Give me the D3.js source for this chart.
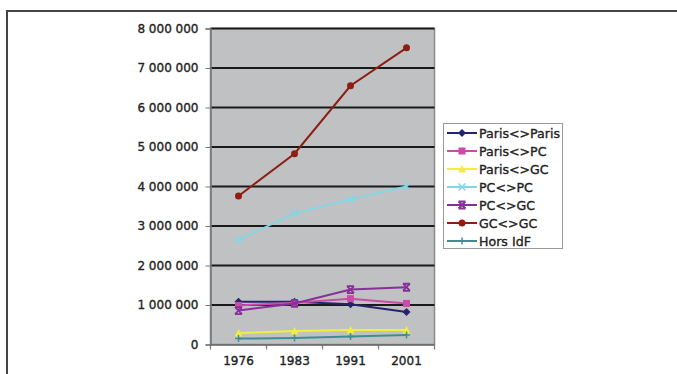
<!DOCTYPE html>
<html><head><meta charset="utf-8">
<script src="https://cdn.jsdelivr.net/npm/d3@7"></script>
<style>body{margin:0;background:#fff;}svg{display:block;}text{font-family:"DejaVu Sans",Verdana,sans-serif;stroke:#222;stroke-width:0.35px;}</style>
</head><body><svg id="c" width="677" height="374"></svg>
<script>
const years = ["1976","1983","1991","2001"];
const seriesNames = ["Paris<>Paris","Paris<>PC","Paris<>GC","PC<>PC","PC<>GC","GC<>GC","Hors IdF"];
const parisParis = [1080000,1080000,1020000,820000];
const parisPC    = [990000,1060000,1160000,1040000];
const parisGC    = [290000,340000,370000,370000];
const pcPC       = [2650000,3320000,3680000,4000000];
const pcGC       = [860000,1040000,1390000,1450000];
const gcGC       = [3760000,4830000,6550000,7510000];
const horsIdF    = [150000,165000,200000,240000];
const yTicks = [0,1000000,2000000,3000000,4000000,5000000,6000000,7000000,8000000];
const colors = ["#24246e","#cc4aa8","#f2ee3c","#84d6e4","#86319a","#8c1e12","#3d8e94"];
const markers = ["diamond","square","triangle","x","star","circle","plus"];
const values = [parisParis,parisPC,parisGC,pcPC,pcGC,gcGC,horsIdF];

const svg = d3.select("#c");
// outer frame
svg.append("path").attr("d","M7,374 V11 H677").attr("fill","none").attr("stroke","#444").attr("stroke-width",2);

const L=210.5, R=434.5, T=28.5, B=344.5;
const x = d3.scaleBand().domain(years).range([L,R]);
const y = d3.scaleLinear().domain([0,8000000]).range([B,T]);

svg.append("rect").attr("x",L).attr("y",T).attr("width",R-L).attr("height",B-T).attr("fill","#bfc1c3").attr("stroke","#8a8a8a").attr("stroke-width",1.5);

// gridlines
svg.append("g").selectAll("line").data(yTicks.filter(d=>d>0)).join("line")
  .attr("x1",L).attr("x2",R).attr("y1",d=>y(d)).attr("y2",d=>y(d))
  .attr("stroke","#1a1a1a").attr("stroke-width",2.2);

const fmt = d => d3.format(",")(d).replace(/,/g," ");
const yAxis = svg.append("g").attr("transform",`translate(${L},0)`)
  .call(d3.axisLeft(y).tickValues(yTicks).tickFormat(fmt).tickSize(5).tickPadding(7));
yAxis.select(".domain").attr("stroke","#777").attr("stroke-width",1.5);
yAxis.selectAll(".tick line").attr("stroke","#777");
yAxis.selectAll("text").attr("font-size","12px").attr("fill","#222");

const xAxis = svg.append("g").attr("transform",`translate(0,${B})`)
  .call(d3.axisBottom(x).tickSize(0).tickPadding(12));
xAxis.select(".domain").attr("stroke","#666").attr("stroke-width",1.5);
xAxis.selectAll("text").attr("font-size","12px").attr("fill","#222");
// boundary ticks
svg.append("g").selectAll("line").data(years.slice(1)).join("line")
  .attr("x1",d=>x(d)).attr("x2",d=>x(d)).attr("y1",B).attr("y2",B+5).attr("stroke","#777").attr("stroke-width",1.2);
svg.append("g").selectAll("line").data([L,R]).join("line")
  .attr("x1",d=>d).attr("x2",d=>d).attr("y1",B).attr("y2",B+5).attr("stroke","#777").attr("stroke-width",1.2);

const cx = d => x(d)+x.bandwidth()/2;
function drawMarker(g, type, px, py, col){
  const s=3.5;
  if(type==="diamond") g.append("path").attr("d",`M${px},${py-s-0.5}L${px+s+0.5},${py}L${px},${py+s+0.5}L${px-s-0.5},${py}Z`).attr("fill",col);
  else if(type==="square") g.append("rect").attr("x",px-s).attr("y",py-s).attr("width",2*s).attr("height",2*s).attr("fill",col);
  else if(type==="triangle") g.append("path").attr("d",`M${px},${py-s-0.5}L${px+s+0.5},${py+s}L${px-s-0.5},${py+s}Z`).attr("fill",col);
  else if(type==="x") g.append("path").attr("d",`M${px-s},${py-s}L${px+s},${py+s}M${px-s},${py+s}L${px+s},${py-s}`).attr("stroke",col).attr("stroke-width",1.6);
  else if(type==="star") g.append("path").attr("d",`M${px-s},${py-s}L${px+s},${py+s}M${px-s},${py+s}L${px+s},${py-s}M${px-s},${py-s}H${px+s}M${px-s},${py+s}H${px+s}`).attr("stroke",col).attr("stroke-width",1.8);
  else if(type==="circle") g.append("circle").attr("cx",px).attr("cy",py).attr("r",s).attr("fill",col);
  else if(type==="plus") g.append("path").attr("d",`M${px-s},${py}H${px+s}M${px},${py-s}V${py+s}`).attr("stroke",col).attr("stroke-width",1.5);
}

const line = d3.line().x((d,i)=>cx(years[i])).y(d=>y(d));
seriesNames.forEach((name,k)=>{
  const g = svg.append("g");
  g.append("path").attr("d",line(values[k])).attr("fill","none").attr("stroke",colors[k]).attr("stroke-width",2);
  values[k].forEach((v,i)=>drawMarker(g,markers[k],cx(years[i]),y(v),colors[k]));
});

// legend
const lg = svg.append("g");
lg.append("rect").attr("x",443.5).attr("y",123.5).attr("width",119).attr("height",125).attr("fill","#fff").attr("stroke","#999").attr("stroke-width",1);
seriesNames.forEach((name,k)=>{
  const ly = 133 + k*18;
  lg.append("line").attr("x1",447).attr("x2",477).attr("y1",ly).attr("y2",ly).attr("stroke",colors[k]).attr("stroke-width",2);
  drawMarker(lg,markers[k],462,ly,colors[k]);
  lg.append("text").attr("x",479).attr("y",ly+4.5).attr("font-size","12.6px").attr("fill","#222").text(name);
});
</script></body></html>
